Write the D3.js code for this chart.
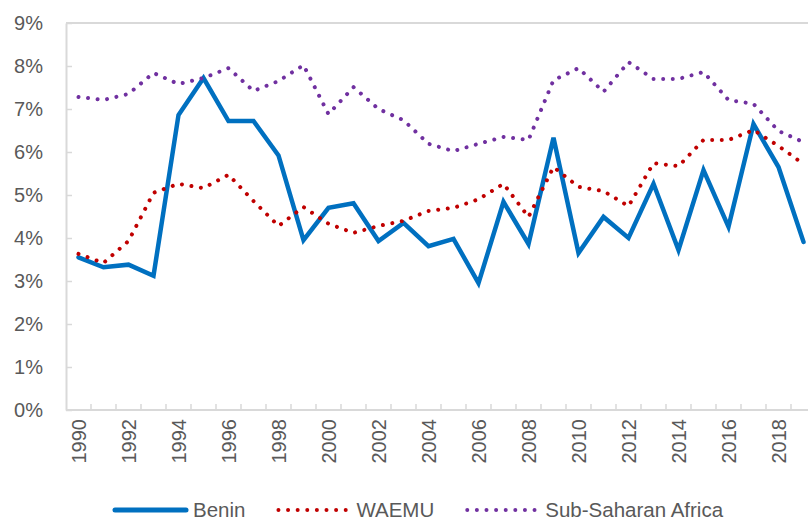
<!DOCTYPE html>
<html>
<head>
<meta charset="utf-8">
<script src="https://cdn.jsdelivr.net/npm/d3@7"></script>
<style>
  html, body { margin: 0; padding: 0; background: #fff; }
  svg { display: block; }
  text { font-family: "Liberation Sans", Arial, sans-serif; fill: #595959; }
</style>
</head>
<body>
<svg id="chart" width="808" height="522"></svg>
<script>
const years = d3.range(1990, 2020);
const tickYears = d3.range(1990, 2020, 2);
const yTicks = [0, 0.01, 0.02, 0.03, 0.04, 0.05, 0.06, 0.07, 0.08, 0.09];
const benin = [3.55, 3.32, 3.38, 3.12, 6.86, 7.72, 6.72, 6.72, 5.92, 3.95, 4.70, 4.81, 3.93, 4.35, 3.81, 3.98, 2.95, 4.84, 3.86, 6.33, 3.65, 4.49, 4.00, 5.26, 3.72, 5.58, 4.26, 6.65, 5.65, 3.91];
const waemu = [3.63, 3.42, 3.93, 5.05, 5.26, 5.16, 5.47, 4.86, 4.28, 4.72, 4.33, 4.12, 4.28, 4.40, 4.63, 4.70, 4.90, 5.26, 4.49, 5.65, 5.19, 5.09, 4.74, 5.74, 5.67, 6.28, 6.28, 6.51, 6.14, 5.72];
const ssa = [7.28, 7.21, 7.35, 7.84, 7.58, 7.72, 7.95, 7.42, 7.65, 8.02, 6.88, 7.51, 7.00, 6.74, 6.19, 6.02, 6.19, 6.35, 6.28, 7.67, 7.95, 7.40, 8.09, 7.70, 7.70, 7.86, 7.21, 7.12, 6.49, 6.23];
const seriesNames = ["Benin", "WAEMU", "Sub-Saharan Africa"];

const series = [
  { name: seriesNames[0], values: benin, color: "#0070C0", width: 4.5, dash: null },
  { name: seriesNames[1], values: waemu, color: "#C00000", width: 4, dash: "0.01 9.6" },
  { name: seriesNames[2], values: ssa, color: "#7030A0", width: 4, dash: "0.01 9.6" }
];

const svg = d3.select("#chart");
const mLeft = 66, mRight = 816, mTop = 23, mBottom = 410;
const x = d3.scaleBand().domain(years).range([mLeft, mRight]).padding(0);
const xc = yr => x(yr) + x.bandwidth() / 2;
const y = d3.scaleLinear().domain([0, 0.09]).range([mBottom, mTop]);
const grid = "#d9d9d9";

// top border line
svg.append("line").attr("x1", mLeft).attr("x2", 808).attr("y1", y(0.09)).attr("y2", y(0.09))
  .attr("stroke", grid).attr("stroke-width", 2);

// Y axis
const yAxis = svg.append("g").attr("transform", `translate(${mLeft},0)`)
  .call(d3.axisLeft(y).tickValues(yTicks).tickFormat(d3.format(".0%")).tickSizeInner(-6).tickSizeOuter(0).tickPadding(23));
yAxis.select(".domain").attr("stroke", grid).attr("stroke-width", 2);
yAxis.selectAll(".tick line").attr("stroke", grid).attr("stroke-width", 1.5);
yAxis.selectAll(".tick text").attr("font-size", 20).attr("fill", "#595959")
  .attr("font-family", "Liberation Sans, Arial, sans-serif");

// X axis: tick marks at band boundaries
const xAxis = svg.append("g");
xAxis.append("line").attr("x1", mLeft).attr("x2", 808).attr("y1", mBottom).attr("y2", mBottom)
  .attr("stroke", grid).attr("stroke-width", 2);
xAxis.selectAll("line.tk").data(years.slice(1)).join("line").attr("class", "tk")
  .attr("x1", d => x(d)).attr("x2", d => x(d)).attr("y1", mBottom).attr("y2", mBottom - 6)
  .attr("stroke", grid).attr("stroke-width", 1.5);
xAxis.selectAll("text").data(tickYears).join("text")
  .attr("transform", d => `translate(${xc(d)},${mBottom + 9}) rotate(-90)`)
  .attr("text-anchor", "end").attr("dy", "0.35em").attr("font-size", 20).attr("fill", "#595959")
  .text(d => d);

// Lines
const line = d3.line().x((d, i) => xc(years[i])).y(d => y(d / 100));
series.forEach(s => {
  const p = svg.append("path").datum(s.values).attr("d", line)
    .attr("fill", "none").attr("stroke", s.color).attr("stroke-width", s.width);
  if (s.dash) p.attr("stroke-dasharray", s.dash).attr("stroke-linecap", "round");
  else p.attr("stroke-linejoin", "miter").attr("stroke-linecap", "round");
});

// Legend
const legendY = 510;
let lx = 113;
const lg = svg.append("g");
series.forEach(s => {
  const len = 73;
  const l = lg.append("line").attr("x1", lx + 2).attr("x2", lx + len).attr("y1", legendY).attr("y2", legendY)
    .attr("stroke", s.color).attr("stroke-width", s.dash ? 4 : 5).attr("stroke-linecap", "round");
  if (s.dash) l.attr("stroke-dasharray", s.dash);
  const t = lg.append("text").attr("x", lx + len + 7).attr("y", legendY).attr("dy", "0.35em")
    .attr("font-size", 20.5).attr("fill", "#595959").text(s.name);
  lx = lx + len + 7 + t.node().getComputedTextLength() + 31;
});
</script>
</body>
</html>
